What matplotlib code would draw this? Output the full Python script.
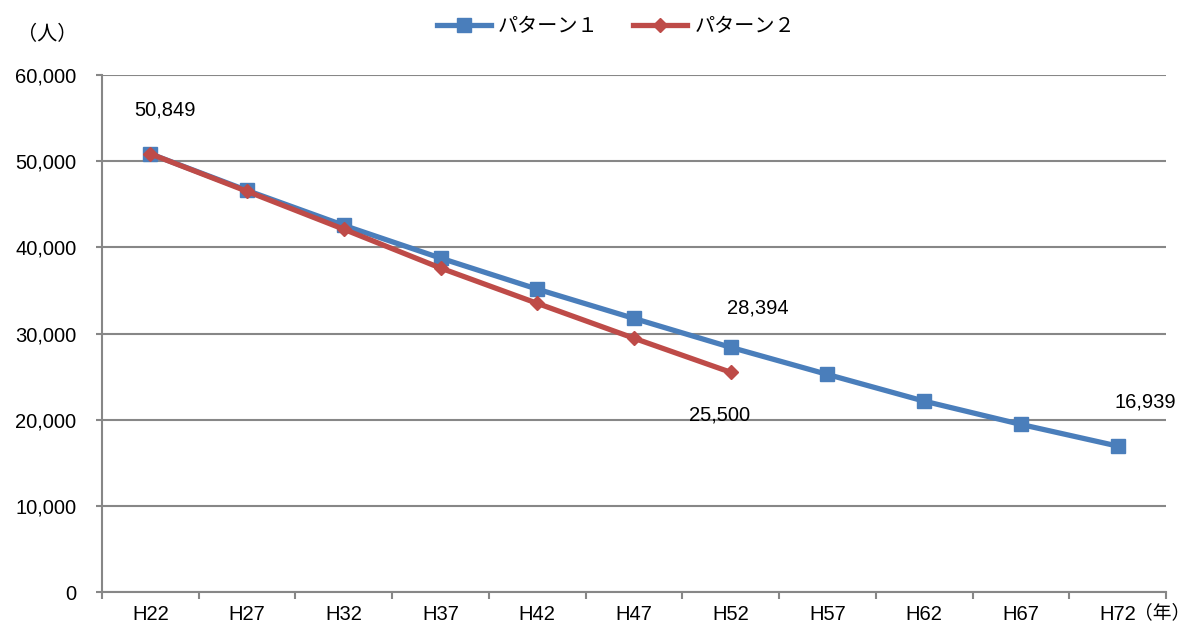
import numpy as np
import matplotlib.pyplot as plt
from matplotlib.ticker import FuncFormatter

plt.rcParams['font.family'] = ['Liberation Sans', 'Noto Sans CJK JP', 'DejaVu Sans']

years = ['H22', 'H27', 'H32', 'H37', 'H42', 'H47', 'H52', 'H57', 'H62', 'H67', 'H72']
pattern1 = [50849, 46600, 42550, 38750, 35150, 31750, 28394, 25250, 22150, 19450, 16939]
pattern2 = [50849, 46500, 42100, 37600, 33500, 29450, 25500]
labels1 = {0: '50,849', 6: '28,394', 10: '16,939'}
labels2 = {6: '25,500'}

blue = '#4A7EBB'
red = '#BE4B48'
grid = '#878787'
fs = 14.5
jp = ['Noto Sans CJK JP', 'DejaVu Sans']

fig = plt.figure(figsize=(11.91, 6.26), dpi=100)
ax = fig.add_axes([0.0856, 0.0543, 0.8934, 0.8259])

x1 = np.arange(len(pattern1))
x2 = np.arange(len(pattern2))
ax.plot(x1, pattern1, color=blue, lw=3.8, marker='s', ms=10, label='パターン１', zorder=3)
ax.plot(x2, pattern2, color=red, lw=3.8, marker='D', ms=7.5, label='パターン２', zorder=4)

ax.set_xlim(-0.5, len(years) - 0.5)
ax.set_ylim(0, 60000)
ax.set_yticks(np.arange(0, 60001, 10000))
ax.yaxis.set_major_formatter(FuncFormatter(lambda v, p: f'{int(v):,}'))
ax.set_xticks(x1)
ax.set_xticklabels(years)
ax.set_xticks(np.arange(-0.5, len(years)), minor=True)
ax.tick_params(axis='x', which='major', length=0, pad=9, labelsize=fs)
ax.tick_params(axis='x', which='minor', length=5, color=grid, width=1.5)
ax.tick_params(axis='y', length=4, color=grid, width=1.5, pad=14.5, labelsize=fs)
ax.grid(axis='y', color=grid, lw=1.5)
ax.set_axisbelow(True)
for s in ['top', 'right']:
    ax.spines[s].set_visible(False)
for s in ['left', 'bottom']:
    ax.spines[s].set_color(grid)
    ax.spines[s].set_linewidth(1.5)

# data labels
offs1 = {0: (0.155, 5100), 6: (0.28, 4560), 10: (0.29, 5110)}
for i, t in labels1.items():
    dx, dy = offs1[i]
    ax.text(x1[i] + dx, pattern1[i] + dy, t, ha='center', va='center', fontsize=fs)
for i, t in labels2.items():
    ax.text(x2[i] - 0.11, pattern2[i] - 4960, t, ha='center', va='center', fontsize=fs)

fig.text(0.040, 0.944, '（人）', ha='center', va='center', fontsize=fs, family=jp)
fig.text(0.9992, 0.022, '（年）', ha='right', va='center', fontsize=13.5, family=jp)

leg = ax.legend(loc='center', bbox_to_anchor=(0.517, 0.958), bbox_transform=fig.transFigure,
                ncol=2, frameon=False, handlelength=2.7, columnspacing=1.7,
                handletextpad=0.35, prop={'family': jp, 'size': fs})

fig.savefig('out.png', dpi=100)
